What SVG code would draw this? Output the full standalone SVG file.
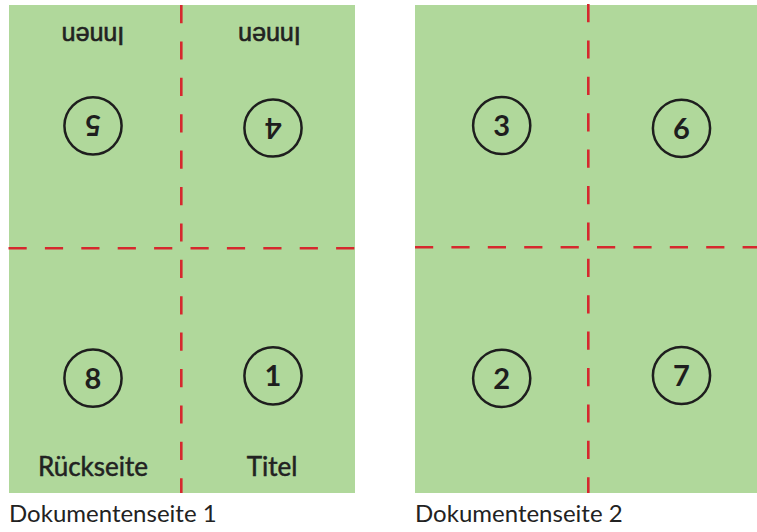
<svg xmlns="http://www.w3.org/2000/svg" width="757" height="532" viewBox="0 0 757 532">
<style>
.sheet{fill:#b0d89b;stroke:none}
.fold{stroke:#d6282e;stroke-width:2.6;stroke-dasharray:18.2 18.2;fill:none}
.ring{fill:none;stroke:#1e1e1e;stroke-width:2.5}
.num{font-family:Lato,"Liberation Sans",sans-serif;font-weight:bold;font-size:29px;fill:#1e1e1e;text-anchor:middle}
.lbl{font-family:Lato,"Liberation Sans",sans-serif;font-size:26px;fill:#222;stroke:#222;stroke-width:0.5;text-anchor:middle}
.inn{font-family:"Liberation Sans",Arial,sans-serif;font-size:25px;fill:#222;stroke:#222;stroke-width:0.6;text-anchor:middle}
.cap{font-family:Lato,"Liberation Sans",sans-serif;font-size:24px;fill:#222}
</style>
<g id="sheet1">
<rect class="sheet" x="9" y="5" width="346" height="488"/>
</g>
<g id="sheet2">
<rect class="sheet" x="415" y="5" width="342" height="488"/>
</g>
<g id="folds">
<line class="fold" x1="181.3" y1="5" x2="181.3" y2="493"/>
<line class="fold" x1="8.5" y1="248.3" x2="355" y2="248.3"/>
<line class="fold" x1="588.3" y1="4" x2="588.3" y2="493"/>
<line class="fold" x1="415" y1="247.3" x2="757" y2="247.3"/>
</g>
<g id="p5">
<circle class="ring" cx="93" cy="125.8" r="28.6"/>
<text class="num" x="93" y="136.2" transform="rotate(180 93 125.8)">5</text>
</g>
<g id="p4">
<circle class="ring" cx="273" cy="128" r="28.6"/>
<text class="num" x="273" y="138.4" transform="rotate(180 273 128)">4</text>
</g>
<g id="innen1">
<text class="inn" x="93" y="45.3" transform="rotate(180 93 36)">Innen</text>
</g>
<g id="innen2">
<text class="inn" x="269.5" y="45.3" transform="rotate(180 269.5 36)">Innen</text>
</g>
<g id="p8">
<circle class="ring" cx="93" cy="378.2" r="28.6"/>
<text class="num" x="93" y="388.6">8</text>
</g>
<g id="p1">
<circle class="ring" cx="273" cy="375.8" r="28.6"/>
<text class="num" x="273" y="386.2">1</text>
</g>
<g id="rueckseite">
<text class="lbl" x="93" y="476">Rückseite</text>
</g>
<g id="titel">
<text class="lbl" x="272" y="476">Titel</text>
</g>
<g id="p3">
<circle class="ring" cx="501.7" cy="125.5" r="28.6"/>
<text class="num" x="501.7" y="135.9">3</text>
</g>
<g id="p6">
<circle class="ring" cx="681.5" cy="128.3" r="28.6"/>
<text class="num" x="681.5" y="138.7">6</text>
</g>
<g id="p2">
<circle class="ring" cx="501.7" cy="378.3" r="28.6"/>
<text class="num" x="501.7" y="388.7">2</text>
</g>
<g id="p7">
<circle class="ring" cx="681.5" cy="375.5" r="28.6"/>
<text class="num" x="681.5" y="385.9">7</text>
</g>
<g id="cap1">
<text class="cap" x="9" y="521.7">Dokumentenseite 1</text>
</g>
<g id="cap2">
<text class="cap" x="415" y="521.7">Dokumentenseite 2</text>
</g>
</svg>
